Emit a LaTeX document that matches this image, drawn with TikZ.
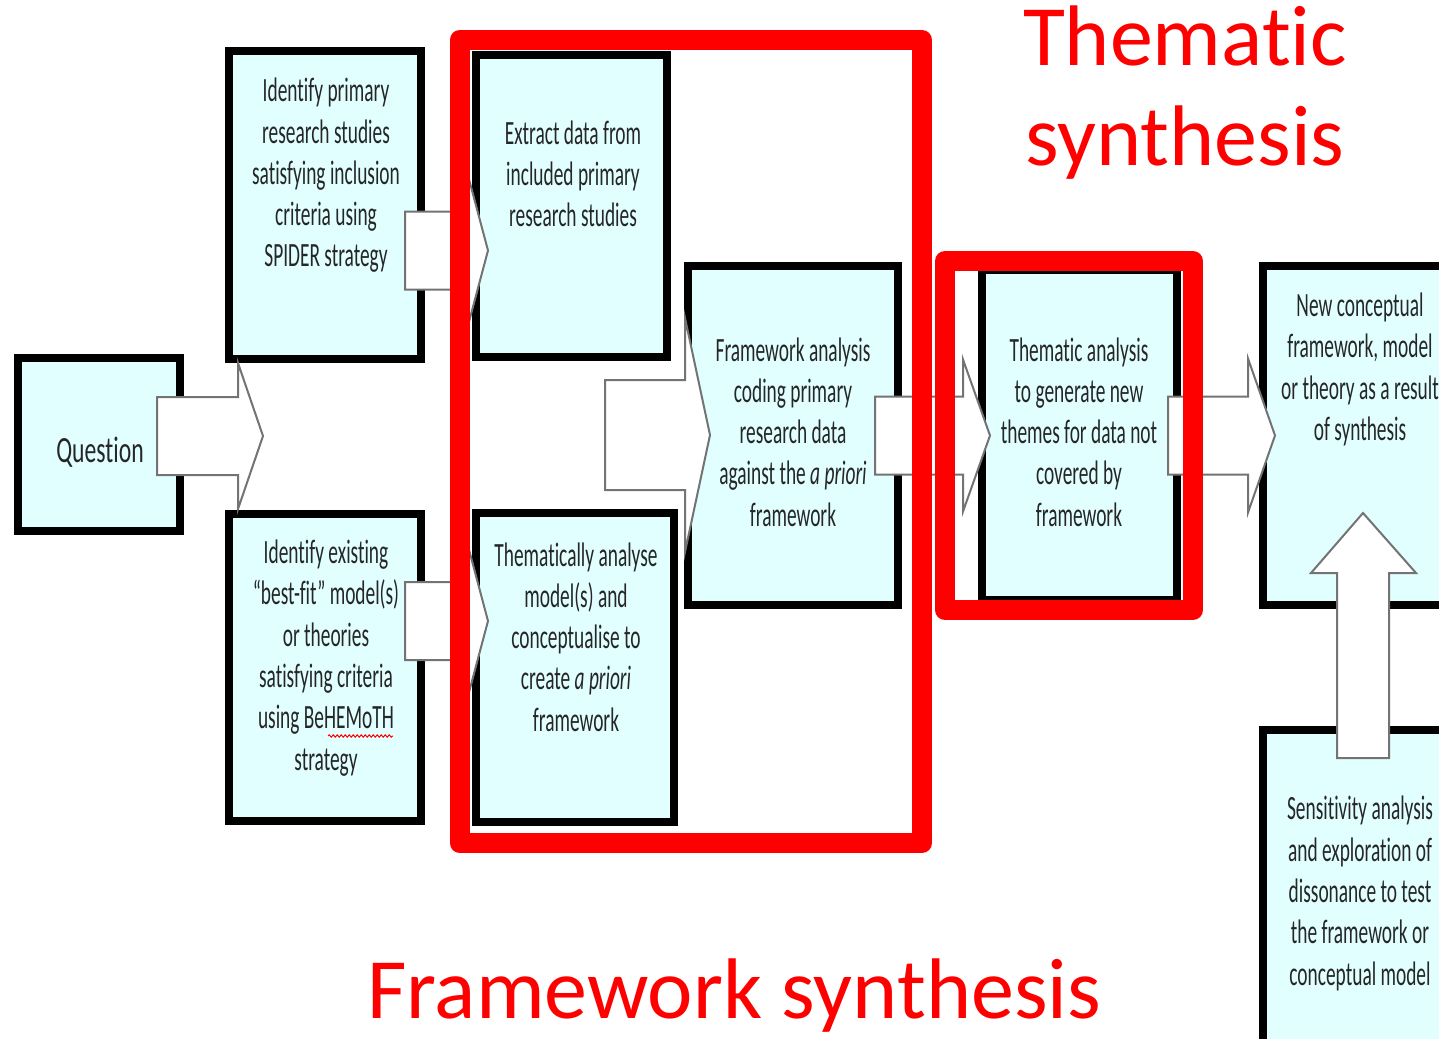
\documentclass[tikz,border=0pt]{standalone}
\usepackage{fontspec}
\usetikzlibrary{decorations.pathmorphing}
\newfontfamily\boxfont[FakeStretch=0.57, Ligatures=NoCommon]{Carlito}
\newfontfamily\questionfont[FakeStretch=0.64, Ligatures=NoCommon]{Carlito}
\newfontfamily\bigfont[Ligatures=NoCommon]{Carlito}
\definecolor{boxcyan}{RGB}{225,255,255}
\definecolor{framered}{RGB}{255,0,0}
\tikzset{
  flowbox/.style={draw=black, line width=8pt, fill=boxcyan, inner sep=0pt},
  boxtext/.style={font=\boxfont\fontsize{34}{41.3}\selectfont, align=center, text=black!85, inner sep=0pt},
  blockarrow/.style={draw=black!55, line width=2pt, fill=white, line join=miter},
  redframe/.style={draw=framered, line width=20pt, line join=round},
  redtext/.style={font=\bigfont\fontsize{86}{100}\selectfont, text=framered, align=center, inner sep=0pt}
}
\begin{document}
\begin{tikzpicture}[x=1pt, y=-1pt]
  \useasboundingbox (0,0) rectangle (1439,1038);
  \clip (0,0) rectangle (1439,1038);
  % Boxes
  \node[flowbox, minimum width=162pt, minimum height=173pt] (question) at (99,444.5) {};
  \node[flowbox, minimum width=192pt, minimum height=308pt] (primary) at (325,205) {};
  \node[flowbox, minimum width=192pt, minimum height=307pt] (existing) at (325,667.5) {};
  \node[flowbox, minimum width=191pt, minimum height=302pt] (extract) at (571.5,206) {};
  \node[flowbox, minimum width=198pt, minimum height=309pt] (analyse) at (575,667.5) {};
  \node[flowbox, minimum width=210pt, minimum height=339pt] (coding) at (793,435.5) {};
  \node[flowbox, minimum width=195pt, minimum height=330pt] (newthemes) at (1079.5,435) {};
  \node[flowbox, minimum width=210pt, minimum height=339pt] (result) at (1368,435.5) {};
  \node[flowbox, minimum width=210pt, minimum height=330pt] (sensitivity) at (1368,895) {};
  % Block arrows: tail x / head base x / tip x / centre y / body half / head half
  \foreach \xa/\xb/\xt/\yc/\bh/\hh in {157/238/263/436/39/73, 405/464/488/250.5/39/90,
      405/464/488/621/39/90, 605/685/710/435/55/117, 875/963/990/435.5/39/76,
      1168/1248/1275/435.5/39/77} {
    \draw[blockarrow] (\xa,{\yc-\bh}) -- (\xb,{\yc-\bh}) -- (\xb,{\yc-\hh}) -- (\xt,\yc)
      -- (\xb,{\yc+\hh}) -- (\xb,{\yc+\bh}) -- (\xa,{\yc+\bh}) -- cycle;
  }
  \draw[blockarrow] (1337,758) -- (1337,573) -- (1311,573) -- (1363,513) -- (1416,573)
    -- (1389,573) -- (1389,758) -- cycle;
  % Box texts
  \node[boxtext, font=\questionfont\fontsize{37}{41}\selectfont] (questiontext) at (100,452) {Question};
  \node[boxtext] (primarytext) at (326,175.5) {Identify primary\\research studies\\satisfying inclusion\\criteria using\\SPIDER strategy};
  \node[boxtext] (existingtext) at (326,658) {Identify existing\\“best-fit” model(s)\\or theories\\satisfying criteria\\using BeHEMoTH\\strategy};
  \draw[framered, line width=1pt, decorate, decoration={snake, amplitude=1.2pt, segment length=4pt}]
    (328,736) -- (393,736);
  \node[boxtext] (extracttext) at (573,174) {Extract data from\\included primary\\research studies};
  \node[boxtext] (analysetext) at (576,637) {Thematically analyse\\model(s) and\\conceptualise to\\create \textit{a priori}\\framework};
  \node[boxtext] (codingtext) at (793,432) {Framework analysis\\coding primary\\research data\\against the \textit{a priori}\\framework};
  \node[boxtext] (newthemestext) at (1079,432) {Thematic analysis\\to generate new\\themes for data not\\covered by\\framework};
  \node[boxtext] (resulttext) at (1360,369.5) {New conceptual\\framework, model\\or theory as a result\\of synthesis};
  \node[boxtext] (sensitivitytext) at (1360,893.5) {Sensitivity analysis\\and exploration of\\dissonance to test\\the framework or\\conceptual model};
  % Red frames and captions
  \draw[redframe] (459.5,40) rectangle (922,843);
  \draw[redframe] (945,261) rectangle (1193,610);
  \node[redtext] (thematiclabel) at (1185,93) {Thematic\\synthesis};
  \node[redtext, anchor=base] (frameworklabel) at (734,1018) {Framework synthesis};
\end{tikzpicture}
\end{document}
